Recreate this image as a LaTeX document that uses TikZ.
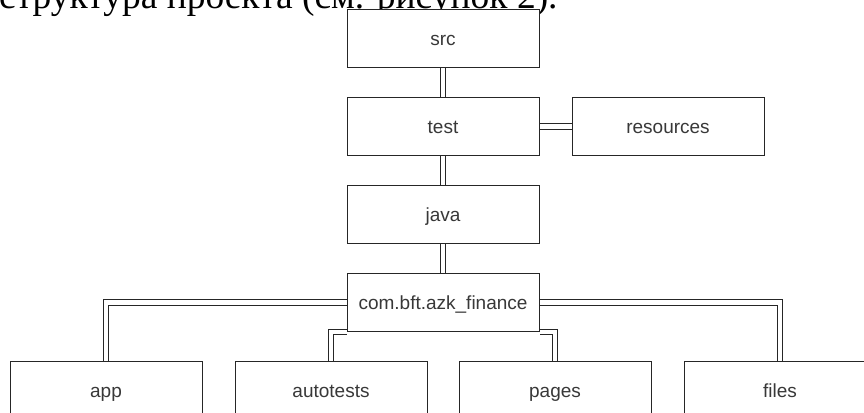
\documentclass[tikz,border=0pt]{standalone}
\usepackage{fontspec}
\setmainfont{Liberation Serif}
\setsansfont{Liberation Sans}
\usetikzlibrary{positioning, backgrounds}

\begin{document}
\begin{tikzpicture}[
	node distance=29.5pt and 32pt,
	folder/.style={rectangle, draw=black!85, fill=white, line width=1pt, minimum width=192pt, minimum height=57.5pt, inner sep=0pt, text height=17.2pt, text depth=4pt, text centered, font=\sffamily\fontsize{19}{23}\selectfont, text=black!78},
	link/.style={draw=black!85, line width=1pt, double=white, double distance=4.5pt}
	]
	
	\useasboundingbox (0,0) rectangle (864pt,-412pt);
	
	% Heading
	\node (caption) [anchor=base west, inner sep=0pt, font=\fontsize{37.5}{40}\selectfont] at (-1pt,-9pt) {структура проекта (см. рисунок 2).};
	
	% Nodes
	\node (src) [folder] at (443pt,-38.5pt) {src};
	\node (test) [folder, below=of src] {test};
	\node (resources) [folder, right=of test] {resources};
	\node (java) [folder, below=of test] {java};
	\node (com) [folder, below=of java] {com.bft.azk\_finance};
	\node (autotests) [folder, below=of com, xshift=-112pt] {autotests};
	\node (app) [folder, left=of autotests] {app};
	\node (pages) [folder, below=of com, xshift=112pt] {pages};
	\node (files) [folder, right=of pages] {files};
	
	% Links
	\begin{scope}[on background layer]
		\draw[link] (src) -- (test);
		\draw[link] (test) -- (resources);
		\draw[link] (test) -- (java);
		\draw[link] (java) -- (com);
		\draw[link] (com.west) -| (app.north);
		\draw[link] (com.south west) -| (autotests.north);
		\draw[link] (com.south east) -| (pages.north);
		\draw[link] (com.east) -| (files.north);
	\end{scope}
	
\end{tikzpicture}
\end{document}
